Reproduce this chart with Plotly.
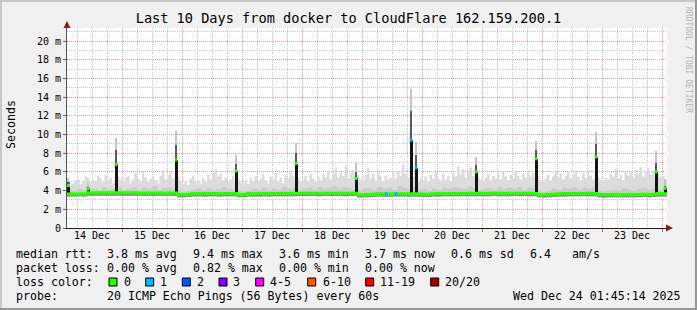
import numpy as np
import pandas as pd
import plotly.graph_objects as go

MONO = "DejaVu Sans Mono"

# ---------------- data ----------------
start_time = "2025-12-14 02:00"
end_time = "2025-12-24 02:00"
first_day_line = "2025-12-15 00:00"

day_label_times = ["2025-12-14 12:00", "2025-12-15 12:00", "2025-12-16 12:00", "2025-12-17 12:00",
                   "2025-12-18 12:00", "2025-12-19 12:00", "2025-12-20 12:00", "2025-12-21 12:00",
                   "2025-12-22 12:00", "2025-12-23 12:00"]
day_labels = ["14 Dec", "15 Dec", "16 Dec", "17 Dec", "18 Dec",
              "19 Dec", "20 Dec", "21 Dec", "22 Dec", "23 Dec"]

y_tick_vals = [0, 2, 4, 6, 8, 10, 12, 14, 16, 18, 20]
y_tick_labels = ["0", "2 m", "4 m", "6 m", "8 m", "10 m", "12 m", "14 m", "16 m", "18 m", "20 m"]

# hourly upper edge of the smoke (ms)
smoke_top = [
    5.3, 4.6, 4.8, 5.1, 5.2, 4.7, 5.0, 5.5, 5.4, 4.9, 5.2, 5.0,
    5.6, 5.3, 4.9, 5.7, 5.1, 5.4, 4.8, 5.6, 5.5, 5.2, 4.9, 5.4,
    5.6, 4.8, 5.2, 5.9, 5.3, 5.0, 6.0, 5.4, 4.9, 5.3, 5.5, 5.1,
    4.8, 5.6, 6.2, 5.2, 5.7, 6.0, 5.3, 5.8, 5.5, 5.0, 4.7, 5.0,
    4.6, 5.3, 5.6, 4.9, 5.1, 4.8, 5.4, 5.0, 5.7, 5.2, 5.9, 6.3,
    5.5, 5.8, 5.1, 5.4, 4.9, 5.2, 5.6, 5.0, 5.3, 4.9, 4.8, 5.1,
    4.7, 5.4, 5.0, 5.6, 4.9, 5.3, 5.8, 5.1, 4.8, 5.5, 5.2, 5.9,
    5.0, 5.4, 4.8, 5.7, 5.3, 6.0, 5.6, 5.1, 5.4, 5.0, 5.2, 5.6,
    5.0, 5.8, 5.3, 4.9, 5.5, 5.1, 5.7, 5.4, 6.1, 5.2, 5.8, 6.5,
    5.4, 6.0, 5.6, 6.6, 5.3, 5.9, 6.2, 5.5, 5.7, 5.2, 5.0, 5.7,
    6.4, 5.3, 5.8, 5.1, 6.0, 5.5, 4.9, 5.6, 5.2, 5.4, 5.9, 5.3,
    6.1, 5.6, 6.8, 5.8, 5.4, 5.9, 5.5, 6.2, 5.0, 5.3, 5.1, 5.5,
    4.9, 5.7, 5.3, 6.0, 5.4, 5.1, 5.8, 5.2, 5.6, 5.0, 6.1, 5.5,
    6.6, 5.8, 6.3, 5.4, 5.9, 6.5, 5.6, 6.0, 5.5, 5.2, 5.0, 5.4,
    5.8, 5.1, 5.6, 5.3, 5.9, 5.2, 6.0, 5.5, 5.1, 5.7, 5.3, 6.1,
    5.6, 5.2, 5.8, 5.4, 6.2, 5.5, 5.9, 5.3, 5.6, 5.1, 4.9, 5.3,
    5.7, 5.1, 5.5, 6.1, 5.4, 5.8, 5.2, 5.6, 6.0, 5.3, 5.7, 6.2,
    5.5, 5.1, 5.9, 5.4, 6.0, 5.6, 5.2, 5.8, 5.4, 5.1, 4.9, 5.4,
    5.2, 5.8, 5.5, 6.3, 5.3, 5.7, 5.1, 6.0, 5.6, 5.9, 5.4, 6.2,
    5.8, 6.5, 5.5, 6.1, 6.4, 5.7, 6.0, 5.3, 5.8, 5.5, 5.6, 5.2,
    5.0,
]

# 2-hourly denser (middle) smoke edge (ms)
smoke_mid = [
    4.1, 4.0, 4.2, 4.1, 4.3, 4.2, 4.0, 4.4, 4.1, 4.2, 4.3, 4.1,
    4.2, 4.4, 4.1, 4.3, 4.2, 4.5, 4.1, 4.3, 4.4, 4.2, 4.0, 3.9,
    4.0, 4.1, 4.2, 4.0, 4.3, 4.1, 4.2, 4.4, 4.2, 4.1, 4.0, 3.9,
    4.0, 4.2, 4.1, 4.3, 4.0, 4.2, 4.1, 4.4, 4.2, 4.3, 4.1, 4.2,
    4.3, 4.1, 4.4, 4.2, 4.3, 4.5, 4.2, 4.4, 4.3, 4.1, 4.0, 4.2,
    4.3, 4.1, 4.4, 4.2, 4.3, 4.1, 4.5, 4.3, 4.2, 4.4, 4.1, 4.2,
    4.0, 4.2, 4.1, 4.3, 4.2, 4.4, 4.3, 4.2, 4.5, 4.3, 4.1, 4.2,
    4.3, 4.1, 4.4, 4.2, 4.3, 4.2, 4.4, 4.1, 4.3, 4.2, 4.0, 3.9,
    4.0, 4.2, 4.1, 4.3, 4.2, 4.4, 4.1, 4.3, 4.2, 4.4, 4.0, 3.9,
    4.0, 4.1, 4.0, 4.2, 4.1, 4.0, 4.2, 4.3, 4.1, 4.2, 4.1, 4.2,
    4.1,
]

# 2-hourly lower edge of the smoke (ms)
smoke_low = [
    3.38, 3.38, 3.39, 3.38, 3.45, 3.46, 3.45, 3.46, 3.45, 3.46, 3.45, 3.46,
    3.45, 3.46, 3.44, 3.43, 3.44, 3.43, 3.44, 3.43, 3.44, 3.43, 3.30, 3.28,
    3.32, 3.38, 3.39, 3.38, 3.40, 3.39, 3.38, 3.40, 3.39, 3.40, 3.29, 3.30,
    3.38, 3.37, 3.38, 3.39, 3.38, 3.39, 3.40, 3.39, 3.40, 3.41, 3.42, 3.42,
    3.43, 3.42, 3.41, 3.42, 3.43, 3.42, 3.42, 3.41, 3.42, 3.43, 3.27, 3.28,
    3.30, 3.33, 3.36, 3.35, 3.34, 3.36, 3.37, 3.36, 3.35, 3.36, 3.34, 3.31,
    3.33, 3.36, 3.38, 3.39, 3.40, 3.40, 3.39, 3.40, 3.41, 3.40, 3.41, 3.40,
    3.41, 3.42, 3.41, 3.40, 3.41, 3.42, 3.41, 3.42, 3.41, 3.40, 3.28, 3.27,
    3.29, 3.31, 3.37, 3.38, 3.39, 3.40, 3.39, 3.40, 3.41, 3.40, 3.29, 3.27,
    3.28, 3.29, 3.28, 3.29, 3.30, 3.29, 3.30, 3.31, 3.30, 3.31, 3.38, 3.36,
    3.36,
]

# 2-hourly median rtt (ms)
median_rtt = [
    3.64, 3.64, 3.65, 3.64,
    3.77, 3.78, 3.76, 3.77, 3.78, 3.77, 3.76, 3.77, 3.78, 3.76,
    3.74, 3.73, 3.74, 3.75, 3.74, 3.73, 3.74,
    3.74,
    3.58, 3.56, 3.60,
    3.68, 3.69, 3.68, 3.70, 3.69, 3.68, 3.70, 3.69, 3.70,
    3.57, 3.58,
    3.68, 3.67, 3.68, 3.69, 3.68, 3.69, 3.70, 3.69, 3.70, 3.71,
    3.72, 3.72, 3.73, 3.72, 3.71, 3.72, 3.73, 3.72, 3.72, 3.71, 3.72, 3.73,
    3.56, 3.57, 3.58, 3.62, 3.66, 3.65, 3.64, 3.66, 3.67, 3.66, 3.65, 3.66,
    3.64, 3.60, 3.62, 3.66, 3.68, 3.69, 3.70, 3.70, 3.69, 3.70, 3.71, 3.70,
    3.71, 3.70, 3.71, 3.72, 3.71, 3.70, 3.71, 3.72, 3.71, 3.72, 3.71, 3.70,
    3.57, 3.56, 3.58, 3.60, 3.66,
    3.68, 3.69, 3.70, 3.69, 3.70, 3.71, 3.70,
    3.58, 3.56, 3.57, 3.58, 3.57, 3.58, 3.59, 3.58, 3.59, 3.60, 3.59, 3.60,
    3.68, 3.66, 3.66,
]

# short latency spikes
spike_time = ["2025-12-14 02:36", "2025-12-14 10:24", "2025-12-14 21:36", "2025-12-15 21:36",
              "2025-12-16 21:36", "2025-12-17 21:36", "2025-12-18 21:36", "2025-12-19 19:36",
              "2025-12-19 21:36", "2025-12-20 21:36", "2025-12-21 21:36", "2025-12-22 21:36",
              "2025-12-23 21:36", "2025-12-24 01:12"]
spike_base = [3.64, 3.77, 3.77, 3.74, 3.69, 3.70, 3.72, 3.66, 3.64, 3.71, 3.71, 3.70, 3.60, 3.66]
spike_median = [4.55, 4.17, 6.8, 7.3, 6.1, 6.9, 5.3, 9.4, 6.45, 6.0, 7.4, 7.6, 6.0, 4.25]
spike_dark = [4.9, 4.4, 8.4, 8.9, 6.9, 8.0, 6.0, 12.5, 7.8, 6.7, 8.4, 9.0, 7.0, 4.5]
spike_top = [5.3, 4.8, 9.6, 10.4, 7.8, 9.1, 7.0, 14.9, 9.2, 7.6, 9.3, 10.3, 8.2, 5.2]
spike_loss = [0, 0, 0, 0, 0, 0, 0, 1, 1, 0, 0, 0, 0, 0]

# single-loss samples on the median line
loss1_time = ["2025-12-19 09:36", "2025-12-19 13:36"]
loss1_value = [3.66, 3.66]

loss_labels = ["0", "1", "2", "3", "4-5", "6-10", "11-19", "20/20"]
loss_colors = ["#26ff00", "#00b8ff", "#0059ff", "#7e00ff", "#ff00ff", "#ff5500", "#ff0000", "#a10000"]

title_text = "Last 10 Days from docker to CloudFlare 162.159.200.1"
rtt_stats = ["3.8 ms avg", "9.4 ms max", "3.6 ms min", "3.7 ms now", "0.6 ms sd", "6.4", "am/s"]
loss_stats = ["0.00 % avg", "0.82 % max", "0.00 % min", "0.00 % now"]
probe_text = "20 ICMP Echo Pings (56 Bytes) every 60s"
stamp_text = "Wed Dec 24 01:45:14 2025"

# ---------------- geometry / style ----------------
W, H = 697, 310
L, R, T, B = 67, 30, 28, 82
PW, PH = W - L - R, H - T - B
def px(xp):
    return (xp - L) / PW
def py(yp):
    return (H - B - yp) / PH

BACK = "#f0f0f0"
MGRID = "#e49a9a"
GRID = "#c4c4c4"
ARROW = "#7f1f1f"
HOUR = 3600 * 1000
DAY = 24 * HOUR
YMAX = 21.4

t1 = pd.date_range(start_time, periods=len(smoke_top), freq="h")
t2 = pd.date_range(start_time, periods=len(smoke_low), freq="2h")
st = pd.to_datetime(spike_time)
sb, sm, sd, stp = map(np.array, (spike_base, spike_median, spike_dark, spike_top))

fig = go.Figure()
common = dict(hoverinfo="skip", showlegend=False)
# smoke layers on the main subplot
fig.add_trace(go.Scatter(x=t2, y=smoke_low, mode="lines", line=dict(width=0, shape="hv"), **common))
fig.add_trace(go.Scatter(x=t1, y=smoke_top, mode="lines", line=dict(width=0, shape="hv"),
                         fill="tonexty", fillcolor="#dcdcdc", **common))
fig.add_trace(go.Scatter(x=t2, y=smoke_low, mode="lines", line=dict(width=0, shape="hv"), **common))
fig.add_trace(go.Scatter(x=t2, y=smoke_mid, mode="lines", line=dict(width=0, shape="hv"),
                         fill="tonexty", fillcolor="#cbcbcb", **common))
fig.add_trace(go.Scatter(x=t2, y=smoke_low, mode="lines", line=dict(width=0, shape="hv"), **common))
fig.add_trace(go.Scatter(x=t2, y=median_rtt, mode="lines", line=dict(width=0, shape="hv"),
                         fill="tonexty", fillcolor="#8a8a8a", **common))

# spikes, median line, loss markers on overlay subplot (drawn above)
ov = dict(xaxis="x2", yaxis="y2")
fig.add_trace(go.Bar(x=st, y=stp - sb, base=sb, width=0.6 * HOUR,
                     marker=dict(color="#c4c4c4", line=dict(width=0)), **ov, **common))
fig.add_trace(go.Bar(x=st, y=sd - sm, base=sm, width=0.9 * HOUR,
                     marker=dict(color="#5a5a5a", line=dict(width=0)), **ov, **common))
fig.add_trace(go.Bar(x=st, y=sm - sb, base=sb, width=1.2 * HOUR,
                     marker=dict(color="#141414", line=dict(width=0)), **ov, **common))
fig.add_trace(go.Scatter(x=t2, y=median_rtt, mode="lines",
                         line=dict(width=3, shape="hv", color=loss_colors[0]), **ov, **common))
fig.add_trace(go.Scatter(x=st, y=sm, mode="markers",
                         marker=dict(symbol="square", size=3, line=dict(width=0),
                                     color=[loss_colors[k] for k in spike_loss]), **ov, **common))
fig.add_trace(go.Scatter(x=pd.to_datetime(loss1_time), y=loss1_value, mode="markers",
                         marker=dict(symbol="square", size=3, line=dict(width=0), color=loss_colors[1]),
                         **ov, **common))

tick_font = dict(family=MONO, size=10, color="#000000")
dotted = "1px,1px"
fig.update_layout(
    width=W, height=H, autosize=False,
    margin=dict(l=L, r=R, t=T, b=B, pad=0),
    paper_bgcolor=BACK, plot_bgcolor="#ffffff",
    barmode="overlay", bargap=0, hovermode=False, showlegend=False,
    title=dict(text=title_text, x=0.5, xref="container", xanchor="center",
               y=1 - 18 / H, yref="container", yanchor="middle",
               font=dict(family=MONO, size=13.6, color="#000000")),
    # main x: grid only (day lines red, 6-hour lines grey)
    xaxis=dict(type="date", range=[start_time, end_time], fixedrange=True,
               tickmode="linear", tick0=first_day_line, dtick=DAY, showticklabels=False,
               showgrid=True, gridcolor=MGRID, griddash=dotted, gridwidth=1,
               ticks="outside", ticklen=3, tickcolor="#c06060", tickwidth=1,
               minor=dict(tickmode="linear", tick0=first_day_line, dtick=6 * HOUR,
                          showgrid=True, gridcolor=GRID, griddash=dotted, gridwidth=1, ticks=""),
               showline=True, linecolor="#1f1f1f", linewidth=1, zeroline=False),
    # overlay x: day labels at noon
    xaxis2=dict(type="date", range=[start_time, end_time], fixedrange=True,
                overlaying="x", anchor="y2", side="bottom",
                tickmode="array", tickvals=day_label_times, ticktext=day_labels,
                tickfont=tick_font, showgrid=False, ticks="", showline=False, zeroline=False),
    # main y: grid only (2 m red, 1 m grey)
    yaxis=dict(range=[0, YMAX], fixedrange=True,
               tickmode="linear", tick0=0, dtick=2, showticklabels=False,
               showgrid=True, gridcolor=MGRID, griddash=dotted, gridwidth=1, ticks="",
               minor=dict(tickmode="linear", tick0=0, dtick=1, showgrid=True, gridcolor=GRID,
                          griddash=dotted, gridwidth=1, ticks=""),
               showline=True, linecolor="#555555", linewidth=1, zeroline=False),
    # overlay y: labels
    yaxis2=dict(range=[0, YMAX], fixedrange=True, overlaying="y", anchor="x2", side="left",
                tickmode="array", tickvals=y_tick_vals, ticktext=y_tick_labels, tickfont=tick_font,
                showgrid=False, ticks="outside", ticklen=3, tickcolor="#8a5050", tickwidth=1,
                showline=False, zeroline=False),
)

ann = []
def txt(s, xp, yp, size=11.6, color="#000000", angle=0, anchor="left"):
    ann.append(dict(text=s, x=px(xp), y=py(yp), xref="paper", yref="paper", showarrow=False,
                    xanchor=anchor, yanchor="middle", textangle=angle,
                    font=dict(family=MONO, size=size, color=color), borderpad=0))

# axis arrows
ann.append(dict(text="", x=0, y=py(21), xref="paper", yref="paper", ax=0, ay=8,
                showarrow=True, arrowhead=2, arrowsize=1.4, arrowwidth=1, arrowcolor=ARROW))
ann.append(dict(text="", x=px(673), y=0, xref="paper", yref="paper", ax=-7, ay=0,
                showarrow=True, arrowhead=2, arrowsize=1.4, arrowwidth=1, arrowcolor=ARROW))

txt("Seconds", 11, 125, angle=-90, anchor="center")
txt("RRDTOOL / TOBI OETIKER", 689, 60, size=8, color="#b4b4b4", angle=90, anchor="center")

row1, row2, row3, row4 = 254, 268, 282, 296
txt("median rtt:", 15, row1)
for s, xp in zip(rtt_stats, [106, 192, 278, 364, 450, 529, 571]):
    txt(s, xp, row1)
txt("packet loss:", 15, row2)
for s, xp in zip(loss_stats, [106, 192, 278, 364]):
    txt(s, xp, row2)
txt("loss color:", 15, row3)
box_x = [109, 145.7, 182.3, 219, 255.7, 307.7, 365.7, 430.7]
lab_x = [122.5, 159, 195.5, 232, 269, 321.5, 379, 444]
shapes = []
for bx, lx, lab, col in zip(box_x, lab_x, loss_labels, loss_colors):
    shapes.append(dict(type="rect", xref="paper", yref="paper", x0=px(bx), x1=px(bx + 8),
                       y0=py(286), y1=py(278), fillcolor=col, line=dict(color="#000000", width=1)))
    txt(lab, lx, row3)
txt("probe:", 15, row4)
txt(probe_text, 106, row4)
txt(stamp_text, 512, row4)

# 3D frame of the canvas
shapes += [
    dict(type="line", xref="paper", yref="paper", x0=px(0), x1=px(W), y0=py(1), y1=py(1),
         line=dict(color="#c8c8c8", width=2)),
    dict(type="line", xref="paper", yref="paper", x0=px(1), x1=px(1), y0=py(0), y1=py(H),
         line=dict(color="#c8c8c8", width=2)),
    dict(type="line", xref="paper", yref="paper", x0=px(0), x1=px(W), y0=py(H - 1), y1=py(H - 1),
         line=dict(color="#969696", width=2)),
    dict(type="line", xref="paper", yref="paper", x0=px(W - 1), x1=px(W - 1), y0=py(0), y1=py(H),
         line=dict(color="#969696", width=2)),
]
fig.update_layout(annotations=ann, shapes=shapes)

fig.write_html("out.html")
